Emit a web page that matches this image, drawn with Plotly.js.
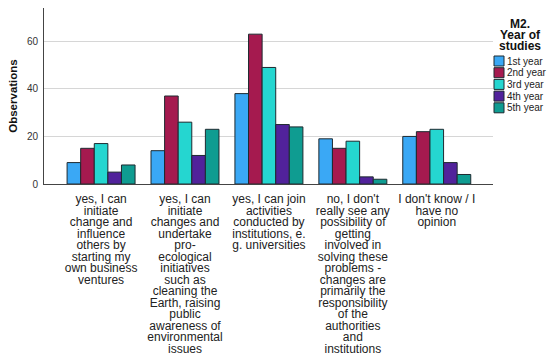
<!DOCTYPE html>
<html>
<head>
<meta charset="utf-8">
<script src="https://cdn.plot.ly/plotly-3.0.1.min.js"></script>
<style>html,body{margin:0;padding:0;background:#fff;}#chart{width:550px;height:356px;}</style>
</head>
<body>
<div id="chart"></div>
<script>
// ---- data ----
var categories = [
  "yes, I can initiate change and influence others by starting my own business ventures",
  "yes, I can initiate changes and undertake pro-ecological initiatives such as cleaning the Earth, raising public awareness of environmental issues",
  "yes, I can join activities conducted by institutions, e. g. universities",
  "no, I don't really see any possibility of getting involved in solving these problems - changes are primarily the responsibility of the authorities and institutions",
  "I don't know / I have no opinion"
];
var tickLabels = [
  "yes, I can<br>initiate<br>change and<br>influence<br>others by<br>starting my<br>own business<br>ventures",
  "yes, I can<br>initiate<br>changes and<br>undertake<br>pro-<br>ecological<br>initiatives<br>such as<br>cleaning the<br>Earth, raising<br>public<br>awareness of<br>environmental<br>issues",
  "yes, I can join<br>activities<br>conducted by<br>institutions, e.<br>g. universities",
  "no, I don't<br>really see any<br>possibility of<br>getting<br>involved in<br>solving these<br>problems -<br>changes are<br>primarily the<br>responsibility<br>of the<br>authorities<br>and<br>institutions",
  "I don't know / I<br>have no<br>opinion"
];
var seriesNames = ["1st year", "2nd year", "3rd year", "4th year", "5th year"];
var year1 = [9, 14, 38, 19, 20];
var year2 = [15, 37, 63, 15, 22];
var year3 = [17, 26, 49, 18, 23];
var year4 = [5, 12, 25, 3, 9];
var year5 = [8, 23, 24, 2, 4];
var seriesValues = [year1, year2, year3, year4, year5];
var yTickVals = [0, 20, 40, 60];
var legendTitle = "M2.<br>Year of<br>studies";
var yAxisTitle = "Observations";

// ---- style ----
var colors = ["#3AA8F5", "#A51A4F", "#25D6D0", "#51229B", "#0F9C91"];
var W = 550, H = 356;
var M = {l: 44, r: 57, t: 8, b: 172};
var plotW = W - M.l - M.r, plotH = H - M.t - M.b;
function px2x(px) { return (px - M.l) / plotW; }
function py2y(py) { return (M.t + plotH - py) / plotH; }
var FONT = "Liberation Sans, Arial, sans-serif";

var traces = seriesNames.map(function (name, i) {
  return {
    type: "bar",
    name: name,
    x: categories,
    y: seriesValues[i],
    marker: {color: colors[i], line: {color: "#1e2a30", width: 1}},
    showlegend: false,
    hoverinfo: "y+name"
  };
});

var annotations = [{
  xref: "paper", yref: "paper", x: px2x(520), y: py2y(15),
  xanchor: "center", yanchor: "top", align: "center",
  text: "<b>" + legendTitle + "</b>", showarrow: false,
  font: {family: FONT, size: 12, color: "#111"}
}];
var shapes = [];
seriesNames.forEach(function (name, i) {
  var cy = 61 + i * 11.7;
  shapes.push({
    type: "rect", xref: "paper", yref: "paper",
    x0: px2x(494), x1: px2x(504), y0: py2y(cy + 5), y1: py2y(cy - 5),
    fillcolor: colors[i], line: {color: "#1e2a30", width: 1}
  });
  annotations.push({
    xref: "paper", yref: "paper", x: px2x(505), y: py2y(cy),
    xanchor: "left", yanchor: "middle",
    text: name, showarrow: false,
    font: {family: FONT, size: 10, color: "#222"}
  });
});

var layout = {
  width: W, height: H,
  margin: M,
  paper_bgcolor: "#fff", plot_bgcolor: "#fff",
  barmode: "group", bargap: 0.19, bargroupgap: 0,
  showlegend: false,
  font: {family: FONT, color: "#222"},
  xaxis: {
    type: "category", range: [-0.68, 4.67],
    tickvals: categories, ticktext: tickLabels, tickangle: 0,
    tickfont: {family: FONT, size: 12, color: "#222"},
    ticks: "", ticklabelstandoff: 4, showgrid: false,
    showline: true, linecolor: "#444", linewidth: 1, zeroline: false,
    automargin: false, fixedrange: true
  },
  yaxis: {
    range: [0, 74], tickvals: yTickVals, ticktext: yTickVals.map(String),
    ticks: "outside", ticklen: 3, tickcolor: "rgba(0,0,0,0)",
    tickfont: {size: 10, color: "#333"},
    showgrid: true, gridcolor: "#d6d6d6", gridwidth: 1,
    showline: true, linecolor: "#444", linewidth: 1, zeroline: false,
    title: {text: "<b>" + yAxisTitle + "</b>", font: {size: 11.5, color: "#111"}, standoff: 6},
    automargin: false, fixedrange: true
  },
  annotations: annotations,
  shapes: shapes
};

// tighten multi-line spacing to match the reference (11.5px lines for 12px text)
function tighten(root) {
  var ratio = 0.737;
  var texts = root.querySelectorAll(".xtick text, .annotation-text");
  texts.forEach(function (t) {
    t.querySelectorAll("tspan.line").forEach(function (s) {
      var dy = s.getAttribute("dy");
      if (dy && dy.indexOf("em") > 0) {
        s.setAttribute("dy", (parseFloat(dy) * (t.closest(".xtick") ? ratio : 0.69)) + "em");
      }
    });
  });
}

Plotly.newPlot("chart", traces, layout, {displayModeBar: false, staticPlot: true}).then(function (gd) {
  tighten(gd);
});
</script>
</body>
</html>
